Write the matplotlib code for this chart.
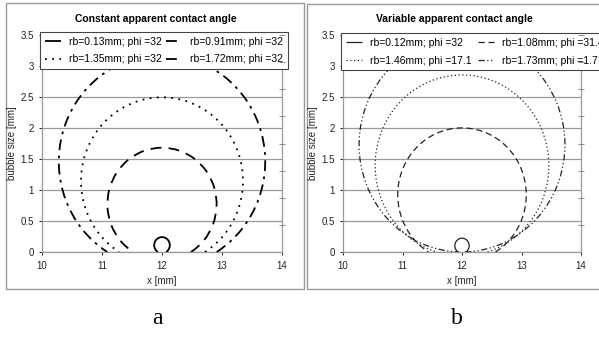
import numpy as np
import matplotlib
matplotlib.use("Agg")
import matplotlib.pyplot as plt
from matplotlib.patches import Arc, Rectangle
from matplotlib.lines import Line2D

plt.rcParams['font.family'] = ['Liberation Sans', 'DejaVu Sans']

# bubble contours: base radius rb [mm] and apparent contact angle phi [deg]
x_centre = 12.0
rb_a = [0.13, 0.91, 1.35, 1.72]
phi_a = [32, 32, 32, 32]
rb_b = [0.12, 1.08, 1.46, 1.73]
phi_b = [32, 31.4, 17.1, 1.7]

titles = ["Constant apparent contact angle", "Variable apparent contact angle"]
panel_letters = ["a", "b"]
xticks = [10, 11, 12, 13, 14]
yticks = [0, 0.5, 1, 1.5, 2, 2.5, 3, 3.5]
ytick_labels = ["0", "0.5", "1", "1.5", "2", "2.5", "3", "3.5"]

styles_a = [(0, ()), (0, (6, 4)), (0, (1, 3)), (0, (6, 3, 1.5, 3))]
styles_b = [(0, ()), (0, (5, 3)), (0, (1, 2)), (0, (5, 2, 1, 2, 1, 2))]

W, H = 599, 338
fig = plt.figure(figsize=(W / 100, H / 100), dpi=100)


def fx(px):
    return px / W


def fy(py):
    return 1 - py / H


def panel(left_px, right_px, rbs, phis, styles, lw, color, title, title_x,
          letter, letter_x, legend_box, col_space):
    ax = fig.add_axes([fx(left_px), fy(252), fx(right_px - left_px), (252 - 35) / H])
    ax.set_xlim(10, 14)
    ax.set_ylim(0, 3.5)
    ax.set_xticks(xticks)
    ax.set_yticks(yticks)
    ax.set_yticklabels(ytick_labels)
    ax.tick_params(labelsize=7, colors='#222222', length=2.5, width=0.7)
    ax.tick_params(axis='x', pad=4)
    for t in ax.get_xticklines() + ax.get_yticklines():
        t.set_color('#888888')
    ax.grid(axis='y', color='#999999', lw=0.9)
    ax.set_axisbelow(True)
    ax.spines['top'].set_visible(False)
    for s in ['left', 'bottom', 'right']:
        ax.spines[s].set_color('#999999')
        ax.spines[s].set_linewidth(0.9)

    # secondary axis ticks on the right
    ax2 = ax.twinx()
    ax2.set_ylim(0, 3.5)
    ax2.set_yticks([k * 3.5 / 8 for k in range(1, 9)])
    ax2.tick_params(direction='inout', length=5, width=0.7, colors='#888888',
                    labelright=False)
    for s in ax2.spines.values():
        s.set_visible(False)

    handles = []
    labels = []
    for rb, phi, ls in zip(rbs, phis, styles):
        h = rb * np.cos(np.radians(phi))
        arc = Arc((x_centre, h), 2 * rb, 2 * rb, theta1=-90 + phi, theta2=270 - phi,
                  lw=lw, color=color, linestyle=ls, zorder=3)
        ax.add_patch(arc)
        handles.append(Line2D([], [], color=color, lw=lw, linestyle=ls))
        labels.append(f"rb={rb:.2f}mm; phi ={phi:g}")

    order = [0, 2, 1, 3]
    leg = ax.legend([handles[i] for i in order], [labels[i] for i in order],
                    ncol=2, loc='upper left', bbox_to_anchor=legend_box,
                    bbox_transform=fig.transFigure, fontsize=7.5, frameon=True,
                    fancybox=False, framealpha=1, edgecolor='#444444',
                    handlelength=1.6, handletextpad=0.75, columnspacing=col_space,
                    borderaxespad=0, borderpad=0.45, labelspacing=0.75)
    leg.get_frame().set_linewidth(0.8)
    leg.set_zorder(5)

    fig.text(fx(title_x), fy(19), title, ha='center', va='center',
             fontsize=7.5, fontweight='bold')
    fig.text(fx((left_px + right_px) / 2), fy(281), "x [mm]", ha='center',
             va='center', fontsize=7, color='#222222')
    fig.text(fx(left_px - 30), fy(143), "bubble size [mm]", ha='center',
             va='center', rotation=90, fontsize=7, color='#222222')
    fig.text(fx(letter_x), fy(318), letter, ha='center', va='center',
             fontsize=17, family='Liberation Serif')
    return ax


panel(42, 282, rb_a, phi_a, styles_a, 1.3, 'black', titles[0], 156,
      panel_letters[0], 157, (fx(40), fy(32)), 0.35)
panel(343, 581, rb_b, phi_b, styles_b, 0.9, '#222222', titles[1], 454,
      panel_letters[1], 457, (fx(341), fy(33)), 0.55)

# outer frames around each panel
fig.patches.append(Rectangle((fx(6), fy(289)), fx(304 - 6), (289 - 3) / H,
                             transform=fig.transFigure, fill=False,
                             edgecolor='#999999', lw=1.0))
fig.patches.append(Rectangle((fx(307), fy(289)), fx(320), (289 - 4) / H,
                             transform=fig.transFigure, fill=False,
                             edgecolor='#999999', lw=1.0))

fig.savefig("out.png", dpi=100)
